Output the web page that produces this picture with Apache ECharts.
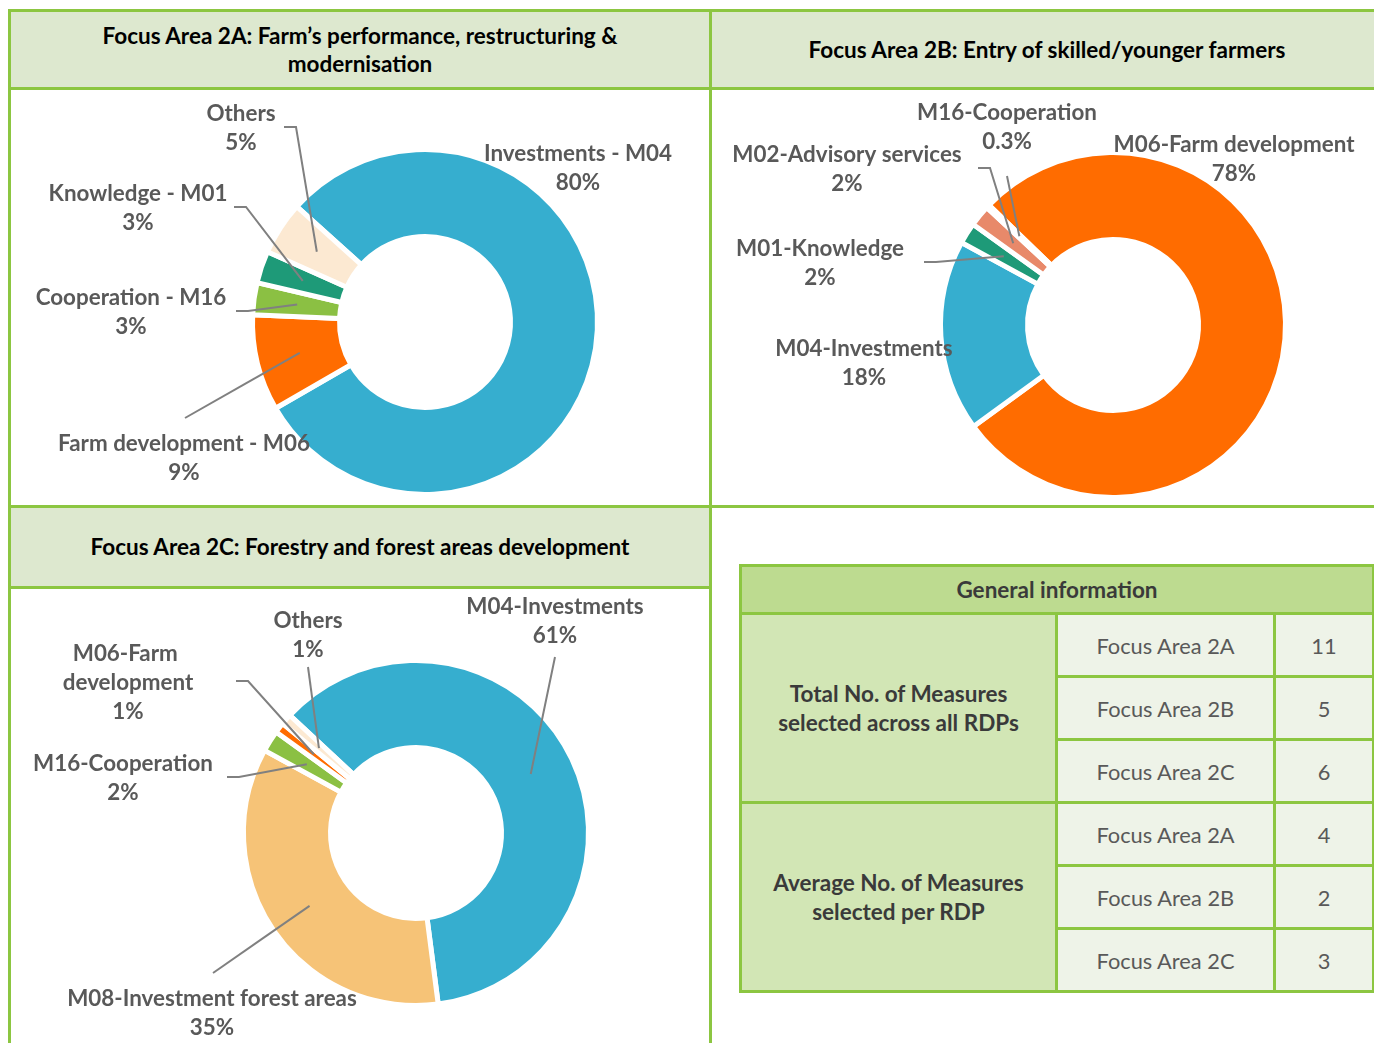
<!DOCTYPE html>
<html>
<head>
<meta charset="utf-8">
<script src="https://cdn.jsdelivr.net/npm/echarts@6/dist/echarts.min.js"></script>
<style>
html,body{margin:0;padding:0;background:#fff;width:1374px;height:1043px;overflow:hidden;font-family:Lato,'Open Sans',sans-serif;}
.line{position:absolute;background:#8cc641;}
.hdr{position:absolute;background:#dde8cf;display:flex;align-items:center;justify-content:center;text-align:center;font-weight:bold;font-size:22.5px;line-height:28px;color:#000;}
#chart{position:absolute;left:0;top:0;width:1374px;height:1043px;}
.cell{position:absolute;display:flex;align-items:center;justify-content:center;text-align:center;font-size:21.8px;line-height:29px;}
</style>
</head>
<body>
<div class="hdr" style="left:11px;top:12px;width:698px;height:75px;">Focus Area 2A: Farm’s performance, restructuring &amp;<br>modernisation</div>
<div class="hdr" style="left:712px;top:12px;width:670px;height:75px;">Focus Area 2B: Entry of skilled/younger farmers</div>
<div class="hdr" style="left:11px;top:508px;width:698px;height:78px;">Focus Area 2C: Forestry and forest areas development</div>

<div class="line" style="left:8px;top:9px;width:1366px;height:3px;"></div>
<div class="line" style="left:8px;top:87px;width:1366px;height:3px;"></div>
<div class="line" style="left:8px;top:505px;width:1366px;height:3px;"></div>
<div class="line" style="left:8px;top:586px;width:703px;height:3px;"></div>
<div class="line" style="left:8px;top:9px;width:3px;height:1034px;"></div>
<div class="line" style="left:709px;top:9px;width:3px;height:1034px;"></div>

<div id="table"></div>
<div id="chart"></div>

<script>
// ---------------- DATA ----------------
const fa2aNames = ['Investments - M04', 'Farm development - M06', 'Cooperation - M16', 'Knowledge - M01', 'Others'];
const fa2aValues = [80, 9, 3, 3, 5];

const fa2bNames = ['M06-Farm development', 'M04-Investments', 'M01-Knowledge', 'M02-Advisory services', 'M16-Cooperation'];
const fa2bValues = [78, 18, 2, 2, 0.3];

const fa2cNames = ['M04-Investments', 'M08-Investment forest areas', 'M16-Cooperation', 'M06-Farm development', 'Others'];
const fa2cValues = [61, 35, 2, 1, 1];

const tableTitle = 'General information';
const tableGroups = ['Total No. of Measures selected across all RDPs', 'Average No. of Measures selected per RDP'];
const tableAreas = ['Focus Area 2A', 'Focus Area 2B', 'Focus Area 2C'];
const totalMeasures = [11, 5, 6];
const avgMeasures = [4, 2, 3];

// ---------------- STYLE / LAYOUT ----------------
const C = {
  blue: '#36aecf', orange: '#ff6c00', green: '#8bc043', teal: '#1e9a78',
  beige: '#fce9d2', salmon: '#e8896a', lightOrange: '#f6c377'
};
const colors2A = [C.blue, C.orange, C.green, C.teal, C.beige];
const colors2B = [C.orange, C.blue, C.teal, C.salmon, C.salmon];
const colors2C = [C.blue, C.lightOrange, C.green, C.orange, C.beige];

const PIE_R = [85.5, 172.5];
const R_MID = 129;

// label placement relative to each donut centre (pos = label centre, line start / elbow)
const layout2A = {
  center: [425, 322], startAngle: 138,
  labels: [
    { pos: [153, -154] },
    { pos: [-241, 136], line: { start: [-240, 96] } },
    { pos: [-294, -10], line: { start: [-189, -11], elbow: [-177, -11] } },
    { pos: [-287, -114], line: { start: [-191, -115], elbow: [-179, -115] } },
    { pos: [-184, -194], line: { start: [-141, -195], elbow: [-129, -195] } }
  ]
};
const layout2B = {
  center: [1113, 325], startAngle: 136,
  labels: [
    { pos: [121, -166] },
    { pos: [-249, 38] },
    { pos: [-293, -62], line: { start: [-189, -63], elbow: [-177, -63] } },
    { pos: [-266, -156], line: { start: [-135, -157], elbow: [-123, -157] } },
    { pos: [-106, -198], line: { start: [-106, -149] } }
  ]
};
const layout2C = {
  center: [416, 833], startAngle: 137,
  labels: [
    { pos: [139, -212], line: { start: [139, -176] } },
    { pos: [-204, 180], line: { start: [-203, 140] } },
    { pos: [-293, -55], line: { start: [-189, -56], elbow: [-177, -56] } },
    { pos: [-288, -150], line: { start: [-180, -152], elbow: [-168, -152] }, width: 150 },
    { pos: [-108, -198], line: { start: [-108, -166] } }
  ]
};

function makeLayout(cfg) {
  return function (params) {
    const L = cfg.labels[params.dataIndex];
    const cx = cfg.center[0], cy = cfg.center[1];
    const out = { x: cx + L.pos[0], y: cy + L.pos[1], align: 'center', verticalAlign: 'middle' };
    if (L.line && params.labelLinePoints && params.labelLinePoints[0]) {
      const p0 = params.labelLinePoints[0];
      const dx = p0[0] - cx, dy = p0[1] - cy;
      const d = Math.sqrt(dx * dx + dy * dy) || 1;
      const a = [cx + dx / d * R_MID, cy + dy / d * R_MID];
      const s = [cx + L.line.start[0], cy + L.line.start[1]];
      const m = L.line.elbow ? [cx + L.line.elbow[0], cy + L.line.elbow[1]] : [(a[0] + s[0]) / 2, (a[1] + s[1]) / 2];
      out.labelLinePoints = [a, m, s];
    }
    return out;
  };
}

// the coloured ring
function donut(names, values, colors, cfg) {
  return {
    type: 'pie',
    z: 2,
    center: cfg.center,
    radius: PIE_R,
    startAngle: cfg.startAngle,
    clockwise: true,
    silent: true,
    animation: false,
    itemStyle: { borderColor: '#ffffff', borderWidth: 5 },
    label: { show: false },
    labelLine: { show: false },
    emphasis: { disabled: true },
    data: names.map((n, i) => ({ name: n, value: values[i], itemStyle: { color: colors[i] } }))
  };
}

// identical, transparent ring drawn above: carries the labels and leader lines
function donutLabels(names, values, cfg) {
  return {
    type: 'pie',
    z: 5,
    center: cfg.center,
    radius: PIE_R,
    startAngle: cfg.startAngle,
    clockwise: true,
    avoidLabelOverlap: false,
    silent: true,
    animation: false,
    itemStyle: { color: 'rgba(0,0,0,0)', borderWidth: 0 },
    label: {
      show: true,
      position: 'outside',
      formatter: '{b}\n{c}%',
      color: '#595959',
      fontFamily: 'Lato',
      fontWeight: 'bold',
      fontSize: 22.4,
      lineHeight: 29
    },
    labelLine: { show: true, showAbove: true, length: 10, length2: 10, smooth: false, lineStyle: { color: '#808080', width: 2, opacity: 1 } },
    labelLayout: makeLayout(cfg),
    emphasis: { disabled: true },
    data: names.map((n, i) => {
      const L = cfg.labels[i];
      const item = { name: n, value: values[i] };
      if (!L.line) item.labelLine = { show: false };
      if (L.width) item.label = { width: L.width, overflow: 'break' };
      return item;
    })
  };
}

const chart = echarts.init(document.getElementById('chart'), null, { renderer: 'canvas' });
chart.setOption({
  animation: false,
  series: [
    donut(fa2aNames, fa2aValues, colors2A, layout2A),
    donut(fa2bNames, fa2bValues, colors2B, layout2B),
    donut(fa2cNames, fa2cValues, colors2C, layout2C),
    donutLabels(fa2aNames, fa2aValues, layout2A),
    donutLabels(fa2bNames, fa2bValues, layout2B),
    donutLabels(fa2cNames, fa2cValues, layout2C)
  ]
});

// ---------------- TABLE ----------------
(function buildTable() {
  const root = document.getElementById('table');
  const X = [742, 1058, 1276, 1375]; // cell left edges (col1, col2, col3, end)
  const GAP = 3;
  const top = 564, headH = 45, rowH = 60;
  function add(style, html, cls) {
    const d = document.createElement('div');
    d.className = cls || 'cell';
    Object.assign(d.style, style);
    d.innerHTML = html || '';
    root.appendChild(d);
    return d;
  }
  const bottom = top + GAP + headH + GAP + 2 * (3 * rowH + 3 * GAP);
  add({ left: '739px', top: top + 'px', width: '637px', height: (bottom - top) + 'px', background: '#8cc641' }, '', 'line');
  add({ left: X[0] + 'px', top: (top + GAP) + 'px', width: (X[3] - GAP - X[0]) + 'px', height: headH + 'px',
        background: '#bddb90', fontWeight: 'bold', color: '#3a3a3a', fontSize: '22.5px' }, tableTitle);
  const groups = [totalMeasures, avgMeasures];
  let y = top + GAP + headH + GAP;
  groups.forEach((vals, g) => {
    const gh = 3 * rowH + 2 * GAP;
    const words = tableGroups[g].split(' ');
    const txt = words.slice(0, 4).join(' ') + '<br>' + words.slice(4).join(' ');
    add({ left: X[0] + 'px', top: y + 'px', width: (X[1] - GAP - X[0]) + 'px', height: gh + 'px',
          background: '#d2e6b5', fontWeight: 'bold', color: '#3a3a3a', fontSize: '22.5px' }, txt);
    for (let r = 0; r < 3; r++) {
      const ry = y + r * (rowH + GAP);
      add({ left: X[1] + 'px', top: ry + 'px', width: (X[2] - GAP - X[1]) + 'px', height: rowH + 'px',
            background: '#eef3e8', color: '#595959' }, tableAreas[r]);
      add({ left: X[2] + 'px', top: ry + 'px', width: (X[3] - GAP - X[2]) + 'px', height: rowH + 'px',
            background: '#eef3e8', color: '#595959' }, String(vals[r]));
    }
    y += gh + GAP;
  });
})();
</script>
</body>
</html>
